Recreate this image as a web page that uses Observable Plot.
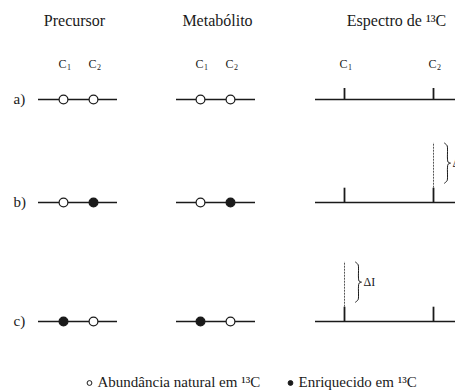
<!DOCTYPE html>
<html>
<head>
<meta charset="utf-8">
<script src="https://cdn.jsdelivr.net/npm/d3@7"></script>
<script src="https://cdn.jsdelivr.net/npm/@observablehq/plot@0.6"></script>
<style>
  html, body { margin: 0; padding: 0; background: #fff; }
  svg { display: block; }
</style>
</head>
<body>
<div id="chart"></div>
<script>
// ---- data ----
const panels = ["Precursor", "Metabólito", "Espectro de ¹³C"];
const carbonLabels = ["C", "C"];
const carbonSubs = ["1", "2"];
const rowLabels = ["a)", "b)", "c)"];
// labelling state of C1, C2 for each row: "n" natural abundance, "e" enriched
const precursorState = [["n", "n"], ["n", "e"], ["e", "n"]];
const metaboliteState = [["n", "n"], ["n", "e"], ["e", "n"]];
// relative 13C signal intensities (C1, C2) per row
const naturalLevel = [1.0, 1.3, 1.3];
const intensityC1 = [1.0, 1.3, 5.4];
const intensityC2 = [1.0, 5.4, 1.3];
const deltaLabel = "ΔI";
const legendItems = ["Abundância natural em ¹³C", "Enriquecido em ¹³C"];

// ---- layout (not data) ----
const W = 455, H = 390;
const rowBase = [99, 202, 321];
const titleX = [74, 217, 396];
const molCarbonX = [[63, 93], [200, 230]];
const molLineX = [[38, 117], [176, 255]];
const specCarbonX = [344, 433];
const specLineX = [315, 458];
const unit = 11; // px per intensity unit
const font = "'Liberation Serif', 'Times New Roman', serif";
const ink = "#1a1a1a";

// ---- derived tables ----
const lines = [];
rowLabels.forEach((r, i) => {
  molLineX.forEach(([x1, x2]) => lines.push({x1, x2, y: rowBase[i]}));
  lines.push({x1: specLineX[0], x2: specLineX[1], y: rowBase[i]});
});
const atoms = [];
[precursorState, metaboliteState].forEach((states, p) => {
  states.forEach((st, i) => st.forEach((s, k) => atoms.push({x: molCarbonX[p][k], y: rowBase[i], s})));
});
const peaks = [], dashed = [], braces = [], deltas = [];
rowLabels.forEach((r, i) => {
  [intensityC1[i], intensityC2[i]].forEach((v, k) => {
    const x = specCarbonX[k], base = rowBase[i];
    const nat = Math.min(v, naturalLevel[i]);
    peaks.push({x, y1: base, y2: base - nat * unit});
    if (v > naturalLevel[i]) {
      const top = base - v * unit, low = base - naturalLevel[i] * unit;
      dashed.push({x, y1: low, y2: top});
      const bx = x + 11, b0 = top, b1 = low - 5, m = (b0 + b1) / 2;
      const id = braces.length;
      [[0, 0], [2.6, 2.5], [3, 6], [3, m - b0 - 4], [3.6, m - b0 - 1], [6, m - b0],
       [3.6, m - b0 + 1], [3, m - b0 + 4], [3, b1 - b0 - 6], [2.6, b1 - b0 - 2.5], [0, b1 - b0]]
        .forEach(([dx, dy]) => braces.push({id, x: bx + dx, y: b0 + dy}));
      deltas.push({x: bx + 8, y: m + 4, t: deltaLabel});
    }
  });
});
const carbonText = [];
[...molCarbonX, specCarbonX].forEach(xs => xs.forEach((x, k) => carbonText.push({x, k})));

const T = {fontFamily: font, fill: ink, lineAnchor: "bottom"};

const chart = Plot.plot({
  width: W, height: H,
  margin: 0,
  x: {domain: [0, W], range: [0, W], axis: null},
  y: {domain: [0, H], range: [0, H], axis: null},
  style: {background: "#fff", color: ink},
  marks: [
    Plot.text(panels, {...T, x: (d, i) => titleX[i], y: 25, text: d => d, fontSize: 16, textAnchor: "middle"}),
    Plot.text(carbonText, {...T, x: d => d.x + 3, y: 67, text: d => carbonLabels[d.k], fontSize: 12, textAnchor: "end"}),
    Plot.text(carbonText, {...T, x: d => d.x + 3.5, y: 69.5, text: d => carbonSubs[d.k], fontSize: 8, textAnchor: "start"}),
    Plot.text(rowLabels, {...T, x: 13, y: (d, i) => rowBase[i] + 4.5, text: d => d, fontSize: 15, textAnchor: "start"}),
    Plot.ruleY(lines, {x1: "x1", x2: "x2", y: "y", stroke: ink, strokeWidth: 1.3}),
    Plot.dot(atoms, {x: "x", y: "y", r: 4.4, stroke: ink, strokeWidth: 1.2, fill: d => d.s === "e" ? ink : "#fff"}),
    Plot.ruleX(peaks, {x: "x", y1: "y1", y2: "y2", stroke: ink, strokeWidth: 1.8}),
    Plot.ruleX(dashed, {x: "x", y1: "y1", y2: "y2", stroke: "#555", strokeWidth: 1, strokeDasharray: "2,1"}),
    Plot.line(braces, {x: "x", y: "y", z: "id", stroke: ink, strokeWidth: 1, curve: "catmull-rom"}),
    Plot.text(deltas, {...T, x: "x", y: "y", text: "t", fontSize: 12, textAnchor: "start"}),
    Plot.dot(legendItems, {x: (d, i) => [89, 290][i], y: 382.5, r: 2.4, stroke: ink, strokeWidth: 1, fill: (d, i) => i === 0 ? "#fff" : ink}),
    Plot.text(legendItems, {...T, x: (d, i) => [97, 298][i], y: 386.5, text: d => d, fontSize: 15, textAnchor: "start"})
  ]
});
document.getElementById("chart").appendChild(chart);
</script>
</body>
</html>
